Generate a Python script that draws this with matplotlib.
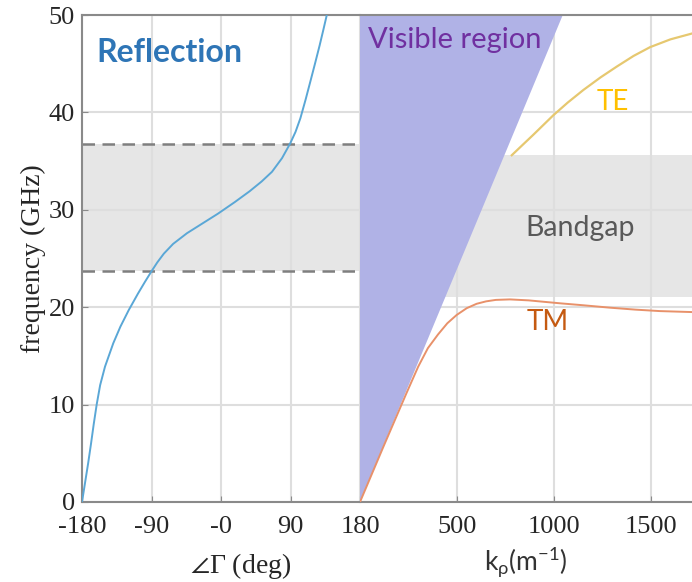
import numpy as np
import matplotlib
matplotlib.use("Agg")
import matplotlib.pyplot as plt

plt.rcParams['font.family'] = 'Liberation Serif'
plt.rcParams['mathtext.default'] = 'regular'

# reflection phase of the surface (left panel)
refl_freq = [0, 2, 4, 6, 8, 10, 12, 13.9, 16.3, 18, 19.7, 21.4, 22.6, 23.75, 24.6, 25.5, 26.5,
             27.6, 28.6, 29.6, 30.8, 31.9, 32.9, 33.9, 35.3, 36.8, 38, 39.4, 41.3, 43.2, 45, 46.9, 48.5, 50]
refl_phase = [-180, -176, -172, -168.3, -164.8, -161, -156.5, -150.2, -139.5, -130.3, -119.5, -107.5, -98.5,
              -89.5, -82.5, -74, -62, -44, -24, -4, 18, 37, 52.5, 66, 79, 89.5, 96.5, 102.8, 109.5, 115.8,
              121.7, 127.8, 132.6, 137]
band_refl = [23.75, 36.8]

# dispersion diagram (right panel)
tm_k = [0, 120, 240, 300, 350, 402, 450, 498, 550, 601, 650, 700, 773, 870, 950, 1031, 1150, 1289, 1420, 1546, 1711]
tm_f = [0, 5.65, 11.2, 13.9, 15.8, 17.2, 18.35, 19.2, 19.9, 20.35, 20.6, 20.75, 20.8, 20.7, 20.55, 20.4,
        20.2, 19.95, 19.75, 19.6, 19.5]
te_k = [782, 840, 893, 996, 1070, 1151, 1240, 1323, 1410, 1495, 1600, 1711]
te_f = [35.6, 36.7, 37.7, 39.7, 41.0, 42.3, 43.6, 44.7, 45.8, 46.7, 47.5, 48.1]
vis_k = [0, 1045, 0]
vis_f = [0, 50, 50]
band_disp = [21.0, 35.6]

phase_ticks = [-180, -90, 0, 90, 180]
phase_labels = ['-180', '-90', '-0', '90', '180']
k_ticks = [500, 1000, 1500]
f_ticks = [0, 10, 20, 30, 40, 50]

grid_c = '#dedede'
spine_c = '#8a8a8a'

fig = plt.figure(figsize=(6.92, 5.82), dpi=100)
ax1 = fig.add_axes([82/692, 80/582, 278/692, 487/582])
ax2 = fig.add_axes([360/692, 80/582, 332/692, 487/582])

for ax in (ax1, ax2):
    ax.set_ylim(0, 50)
    ax.set_yticks(f_ticks)
    ax.set_axisbelow(True)
    ax.grid(True, color=grid_c, linewidth=1.5)
    ax.tick_params(direction='in', length=4, color=spine_c, labelsize=19, labelcolor='#262626')
    ax.tick_params(axis='x', pad=10)
    ax.tick_params(axis='y', pad=5)
    for s in ax.spines.values():
        s.set_color(spine_c)
        s.set_linewidth(1.5)

# left panel
ax1.set_xlim(-180, 180)
ax1.set_xticks(phase_ticks)
ax1.set_xticklabels(phase_labels)
ax1.spines['right'].set_visible(False)
ax1.axhspan(band_refl[0], band_refl[1], color='#e6e6e6', zorder=0.2, lw=0)
for b in band_refl:
    ax1.axhline(b, color='#7f7f7f', linestyle=(0, (5, 3)), linewidth=1.8, zorder=1)
ax1.plot(refl_phase, refl_freq, color='#5aa7d6', linewidth=1.4, zorder=3)
ax1.text(-161, 46.2, 'Reflection', family='Lato', fontweight='bold', fontsize=23,
         color='#2e75b6', va='center', ha='left')
ax1.set_ylabel('frequency (GHz)', fontsize=20, color='#262626', labelpad=2)
ax1.set_xlabel(r'$\angle\Gamma$ (deg)', fontsize=20, color='#262626')
ax1.xaxis.set_label_coords(0.57, -0.1)

# right panel
ax2.set_xlim(0, 1711)
ax2.set_xticks(k_ticks)
ax2.set_yticklabels([])
ax2.tick_params(axis='y', length=0)
ax2.spines['left'].set_visible(False)
ax2.spines['right'].set_visible(False)
ax2.axhspan(band_disp[0], band_disp[1], color='#e6e6e6', zorder=0.2, lw=0)
ax2.fill(vis_k, vis_f, color='#b0b2e6', lw=0, zorder=1)
ax2.plot(tm_k, tm_f, color='#e8916a', linewidth=1.4, zorder=3)
ax2.plot(te_k, te_f, color='#e6c870', linewidth=1.6, zorder=3)
ax2.text(40, 47.4, 'Visible region', family='Lato', fontsize=21, color='#7030a0', va='center')
ax2.text(1222, 41.1, 'TE', family='Lato', fontsize=20, color='#ffc000', va='center')
ax2.text(850, 28.1, 'Bandgap', family='Lato', fontsize=20.5, color='#595959', va='center')
ax2.text(861, 18.5, 'TM', family='Lato', fontsize=20, color='#c55a11', va='center')
ax2.set_xlabel(r'k$_\rho$(m$^{-1}$)', family='Lato', fontsize=19, color='#333333')
ax2.xaxis.set_label_coords(0.5, -0.09)

plt.savefig('out.png', dpi=100)
